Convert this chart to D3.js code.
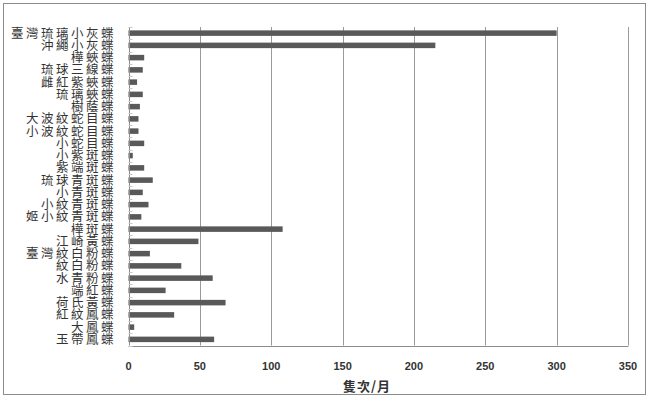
<!DOCTYPE html>
<html>
<head>
<meta charset="utf-8">
<script src="https://cdn.jsdelivr.net/npm/d3@7"></script>
<style>
  html, body { margin: 0; padding: 0; background: #fff; }
  svg { display: block; }
</style>
</head>
<body>
<div id="chart"></div>
<script>
(function () {
  "use strict";

  // categories top to bottom
  const butterflies = [
    "臺灣琉璃小灰蝶", "沖繩小灰蝶", "樺蛺蝶", "琉球三線蝶", "雌紅紫蛺蝶",
    "琉璃蛺蝶", "樹蔭蝶", "大波紋蛇目蝶", "小波紋蛇目蝶", "小蛇目蝶",
    "小紫斑蝶", "紫端斑蝶", "琉球青斑蝶", "小青斑蝶", "小紋青斑蝶",
    "姬小紋青斑蝶", "樺斑蝶", "江崎黃蝶", "臺灣紋白粉蝶", "紋白粉蝶",
    "水青粉蝶", "端紅蝶", "荷氏黃蝶", "紅紋鳳蝶", "大鳳蝶", "玉帶鳳蝶"
  ];
  const counts = [
    300, 215, 11, 10, 6,
    10, 8, 7, 7, 11,
    3, 11, 17, 10, 14,
    9, 108, 49, 15, 37,
    59, 26, 68, 32, 4, 60
  ];
  const xTicks = [0, 50, 100, 150, 200, 250, 300, 350];
  const xTitle = "隻次/月";

  const W = 649, H = 409;
  const plot = { left: 128.5, right: 628, top: 27, bottom: 345.5 };

  const svg = d3.select("#chart").append("svg")
    .attr("width", W).attr("height", H);

  // chart area border
  svg.append("rect")
    .attr("x", 3.5).attr("y", 3.5)
    .attr("width", 642).attr("height", 391)
    .attr("fill", "#fff")
    .attr("stroke", "#8c8c8c")
    .attr("stroke-width", 1);

  const x = d3.scaleLinear().domain([0, 350]).range([plot.left, plot.right]);
  const y = d3.scaleBand().domain(butterflies)
    .range([plot.top, plot.bottom])
    .paddingInner(0.55).paddingOuter(0.275);

  // vertical gridlines
  svg.append("g")
    .selectAll("line")
    .data(xTicks.slice(1))
    .enter().append("line")
    .attr("x1", d => Math.round(x(d)) + 0.5)
    .attr("x2", d => Math.round(x(d)) + 0.5)
    .attr("y1", plot.top).attr("y2", plot.bottom)
    .attr("stroke", "#9a9a9a")
    .attr("stroke-width", 1);

  // bars
  svg.append("g")
    .selectAll("rect")
    .data(butterflies)
    .enter().append("rect")
    .attr("x", x(0))
    .attr("y", d => y(d))
    .attr("width", (d, i) => x(counts[i]) - x(0))
    .attr("height", y.bandwidth())
    .attr("fill", "#595959");

  // axis lines
  const axisG = svg.append("g").attr("stroke", "#8c8c8c").attr("stroke-width", 1);
  axisG.append("line")
    .attr("x1", Math.round(plot.left) + 0.5).attr("x2", Math.round(plot.left) + 0.5)
    .attr("y1", plot.top).attr("y2", plot.bottom);
  axisG.append("line")
    .attr("x1", plot.left).attr("x2", plot.right + 0.5)
    .attr("y1", Math.round(plot.bottom) + 0.5).attr("y2", Math.round(plot.bottom) + 0.5);

  // small category ticks at band boundaries
  const step = y.step();
  const bounds = d3.range(butterflies.length + 1).map(i => plot.top + i * step);
  svg.append("g")
    .selectAll("line")
    .data(bounds)
    .enter().append("line")
    .attr("x1", plot.left).attr("x2", plot.left + 4)
    .attr("y1", d => Math.round(d) + 0.5).attr("y2", d => Math.round(d) + 0.5)
    .attr("stroke", "#c8c8c8");

  // category labels
  svg.append("g")
    .selectAll("text")
    .data(butterflies)
    .enter().append("text")
    .attr("x", 116)
    .attr("y", d => y(d) + y.bandwidth() / 2)
    .attr("dy", "0.36em")
    .attr("text-anchor", "end")
    .attr("font-family", "'Noto Sans CJK TC', sans-serif")
    .attr("font-size", "12.5px")
    .attr("letter-spacing", "2.5px")
    .attr("fill", "#333")
    .text(d => d);

  // x tick labels
  svg.append("g")
    .selectAll("text")
    .data(xTicks)
    .enter().append("text")
    .attr("x", d => x(d))
    .attr("y", 370)
    .attr("text-anchor", "middle")
    .attr("font-family", "'Liberation Sans', sans-serif")
    .attr("font-weight", "bold")
    .attr("font-size", "11px")
    .attr("fill", "#333")
    .text(d => d);

  // x title
  svg.append("text")
    .attr("x", 367)
    .attr("y", 391)
    .attr("text-anchor", "middle")
    .attr("font-family", "'Noto Sans CJK TC', sans-serif")
    .attr("font-weight", "bold")
    .attr("font-size", "13px")
    .attr("letter-spacing", "1px")
    .attr("fill", "#333")
    .text(xTitle);
})();
</script>
</body>
</html>
